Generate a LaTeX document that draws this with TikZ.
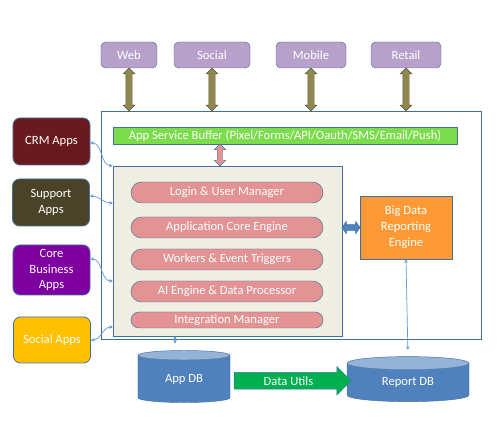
\documentclass[tikz,border=0pt]{standalone}
\usepackage{fontspec}
\setmainfont{Carlito}
\usepackage{tikz}
\usetikzlibrary{shapes.geometric}
\usetikzlibrary{shapes.misc}
\usetikzlibrary{shapes.arrows}
\usetikzlibrary{arrows.meta}
\usetikzlibrary{calc}
\definecolor{edgeblue}{HTML}{41709E}
\definecolor{linkblue}{HTML}{5B9BD5}
\definecolor{chanpurple}{HTML}{B7A1CB}
\definecolor{olivefill}{HTML}{8E8850}
\definecolor{olivedark}{HTML}{5E5A30}
\definecolor{bufgreen}{HTML}{7CDD4C}
\definecolor{corefill}{HTML}{EEEEE3}
\definecolor{modpink}{HTML}{E39393}
\definecolor{bigorange}{HTML}{FF9935}
\definecolor{crmred}{HTML}{6A1A1E}
\definecolor{supolive}{HTML}{4A4328}
\definecolor{bizpurple}{HTML}{7F00A0}
\definecolor{socgold}{HTML}{FFC000}
\definecolor{dbblue}{HTML}{4F81BD}
\definecolor{dbtop}{HTML}{95B3D7}
\definecolor{utilgreen}{HTML}{00B050}
\tikzstyle{box}=[draw=edgeblue, text=white, inner sep=0pt, align=center]
\tikzstyle{channel}=[box, rounded corners=4pt, fill=chanpurple, minimum height=0.78cm]
\tikzstyle{clientapp}=[box, rounded corners=6pt, minimum width=2.31cm, line width=0.7pt]
\tikzstyle{module}=[box, rounded rectangle, fill=modpink, minimum width=5.76cm, minimum height=0.63cm]
\tikzstyle{store}=[box, cylinder, shape border rotate=90, aspect=0.25, cylinder uses custom fill, cylinder body fill=dbblue, cylinder end fill=dbtop]
\tikzstyle{chanarrow}=[double arrow, shape border rotate=90, draw=olivedark, fill=olivefill, inner sep=0.09cm, double arrow head extend=0.08cm, minimum height=1.29cm]
\tikzstyle{link}=[draw=linkblue, {Stealth[length=3pt,width=3pt]}-{Stealth[length=3pt,width=3pt]}, line width=0.6pt]

\begin{document}
\begin{tikzpicture}[x=0.03cm, y=-0.03cm, font=\fontsize{10.75}{13.5}\selectfont]
        \useasboundingbox (0,0) rectangle (500,430);
        % channels
        \node[channel, minimum width=1.68cm] (web) at (129,55) {Web};
        \node[channel, minimum width=2.28cm] (social) at (212,55) {Social};
        \node[channel, minimum width=2.1cm] (mobile) at (311,55) {Mobile};
        \node[channel, minimum width=2.1cm] (retail) at (406,55) {Retail};
        % platform
        \node[draw=edgeblue, fill=white, minimum width=11.4cm, minimum height=6.84cm] (platform) at (291,225) {};
        \node[box, fill=bufgreen, minimum width=10.32cm, minimum height=0.51cm] (buffer) at (285,135.5) {App Service Buffer (Pixel/Forms/API/Oauth/SMS/Email/Push)};
        \node[draw=edgeblue, fill=corefill, minimum width=6.87cm, minimum height=5.1cm] (core) at (227.5,251) {};
        \node[module] (login) at (227,192.5) {Login \& User Manager};
        \node[module] (engine) at (227,227.5) {Application Core Engine};
        \node[module] (workers) at (227,259.5) {Workers \& Event Triggers};
        \node[module] (ai) at (227,291.5) {AI Engine \& Data Processor};
        \node[module, minimum height=0.48cm] (integration) at (227,320) {Integration Manager};
        \node[box, fill=bigorange, minimum width=2.76cm, minimum height=1.89cm] (bigdata) at (406,227.5) {Big Data\\Reporting\\Engine};
        % client apps
        \node[clientapp, fill=crmred, minimum height=1.41cm] (crm) at (51.5,141.5) {CRM Apps};
        \node[clientapp, fill=supolive, minimum height=1.41cm] (support) at (51,202.5) {Support\\Apps};
        \node[clientapp, fill=bizpurple, minimum height=1.5cm] (business) at (51.5,270) {Core\\Business\\Apps};
        \node[clientapp, fill=socgold, minimum height=1.38cm] (socialapps) at (52,340) {Social Apps};
        % stores
        \node[store, minimum width=2.76cm, minimum height=1.56cm] (appdb) at (184,379) {App DB};
        \node[store, minimum width=3.66cm, minimum height=1.35cm] (reportdb) at (408,382.5) {Report DB};
        % block arrows
        \foreach \ch in {web,social,mobile,retail}
            \node[chanarrow] at ($(\ch.south)!0.5!(\ch.south |- platform.north)$) {};
        \node[double arrow, shape border rotate=90, draw=edgeblue, fill=modpink, inner sep=0.075cm, double arrow head extend=0.09cm, minimum height=0.66cm] (bufarrow) at ($(buffer.south -| 220,0)!0.5!(core.north -| 220,0)$) {};
        \node[double arrow, draw=edgeblue, fill=dbblue, inner sep=0.08cm, double arrow head extend=0.1cm, double arrow tip angle=110, minimum height=0.54cm] (reparrow) at ($(core.east |- bigdata.west)!0.5!(bigdata.west)$) {};
        \node[single arrow, draw=edgeblue, fill=utilgreen, text=white, inner xsep=2pt, inner ysep=0.11cm, single arrow head extend=0.18cm, minimum height=3.51cm] (utils) at ($(appdb.east)!0.5!(reportdb.west)$) {Data Utils};
        % links
        \draw[link] (crm.east |- 0,143) to[out=0, in=180] (core.north west);
        \draw[link] (support.east |- 0,196) to[out=0, in=180] (core.west |- 0,203);
        \draw[link] (business.east |- 0,259) to[out=0, in=180] (core.west |- 0,281);
        \draw[link] (socialapps.east) to[out=0, in=180] (core.west |- 0,327);
        \draw[link, shorten >=0.2cm] (core.south -| 175,0) -- (appdb.north -| 175,0);
        \draw[link, shorten >=0.2cm] (bigdata.south) -- (reportdb.north);
    \end{tikzpicture}
\end{document}
